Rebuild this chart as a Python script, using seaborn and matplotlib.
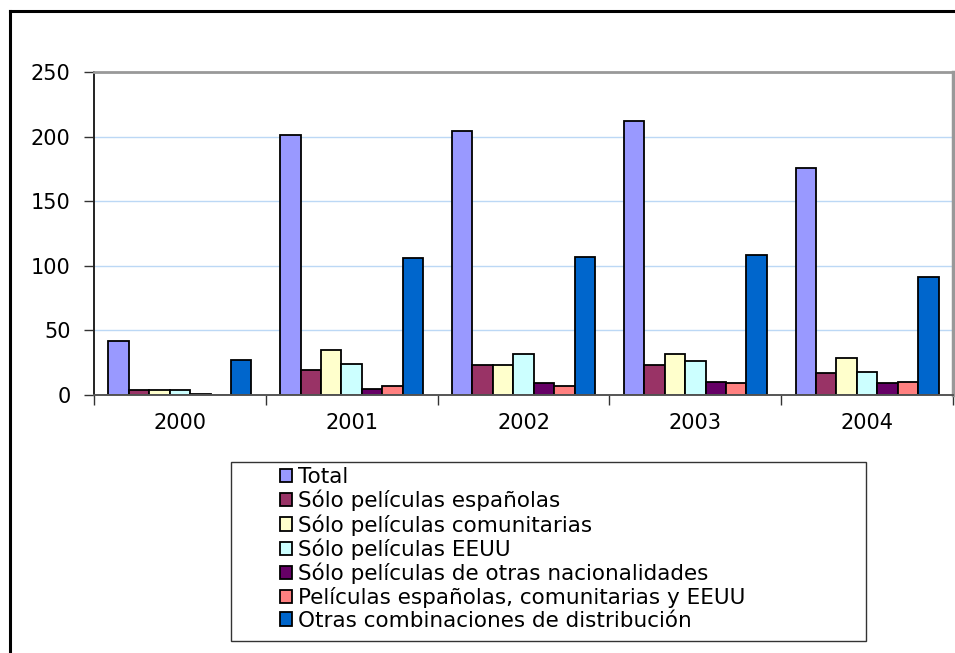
import matplotlib
matplotlib.use("Agg")
import matplotlib.pyplot as plt
from matplotlib.patches import Patch, Rectangle
from matplotlib.lines import Line2D
import seaborn as sns
import pandas as pd

# Number of films per distribution type and year
years = ["2000", "2001", "2002", "2003", "2004"]
series = [
    "Total",
    "Sólo películas españolas",
    "Sólo películas comunitarias",
    "Sólo películas EEUU",
    "Sólo películas de otras nacionalidades",
    "Películas españolas, comunitarias y EEUU",
    "Otras combinaciones de distribución",
]
total = [42, 201, 204, 212, 176]
solo_espanolas = [4, 19, 23, 23, 17]
solo_comunitarias = [4, 35, 23, 32, 29]
solo_eeuu = [4, 24, 32, 26, 18]
solo_otras = [1, 5, 9, 10, 9]
esp_com_eeuu = [0, 7, 7, 9, 10]
otras_combinaciones = [27, 106, 107, 108, 91]
values = [total, solo_espanolas, solo_comunitarias, solo_eeuu,
          solo_otras, esp_com_eeuu, otras_combinaciones]
colors = ["#9999FF", "#993366", "#FFFFCC", "#CCFFFF",
          "#660066", "#FF8080", "#0066CC"]
y_ticks = [0, 50, 100, 150, 200, 250]

df = pd.DataFrame(
    [(y, s, v) for s, vals in zip(series, values) for y, v in zip(years, vals)],
    columns=["año", "serie", "valor"],
)

sns.set_style("white")
plt.rcParams["font.family"] = ["DejaVu Sans"]
plt.rcParams["text.color"] = "black"
plt.rcParams["xtick.labelcolor"] = "black"
plt.rcParams["ytick.labelcolor"] = "black"

W, H = 955, 653
fig = plt.figure(figsize=(W / 100, H / 100), dpi=100)
ax = fig.add_axes([94 / W, 1 - 395 / H, (953 - 94) / W, (395 - 72) / H])

sns.barplot(
    data=df, x="año", y="valor", hue="serie", order=years, hue_order=series,
    palette=colors, width=0.833, edgecolor="black", linewidth=1.3,
    saturation=1, legend=False, ax=ax,
)

ax.set_xlim(-0.5, len(years) - 0.5)
ax.set_ylim(0, 250)
ax.set_yticks(y_ticks)
ax.set_yticklabels([str(t) for t in y_ticks])
ax.yaxis.grid(True, color="#BCD8F5", linewidth=1.0)
ax.set_axisbelow(True)
ax.set_xlabel("")
ax.set_ylabel("")

# category boundaries carry the x tick marks
ax.set_xticks([i - 0.5 for i in range(len(years) + 1)], minor=True)
ax.tick_params(axis="x", which="minor", length=7, width=1, color="#333333",
               direction="out", bottom=True)
ax.tick_params(axis="x", which="major", length=0, pad=13, labelsize=15,
               labelcolor="black")
ax.tick_params(axis="y", which="major", length=7, width=1, color="#333333",
               direction="out", left=True, pad=10, labelsize=15,
               labelcolor="black")

for side, col, lw in [("left", "#222222", 1.4), ("bottom", "#555555", 1.4),
                      ("top", "#999999", 2.0), ("right", "#999999", 2.5)]:
    ax.spines[side].set_visible(True)
    ax.spines[side].set_color(col)
    ax.spines[side].set_linewidth(lw)

# legend box and entries
fig.add_artist(Rectangle((231 / W, 1 - 641 / H), (866 - 231) / W, (641 - 462) / H,
                         transform=fig.transFigure, facecolor="white",
                         edgecolor="#333333", linewidth=1.0))
handles = [Patch(facecolor=c, edgecolor="black", linewidth=1.3) for c in colors]
fig.legend(
    handles, series, loc="upper left", bbox_to_anchor=(280 / W, 1 - 467 / H),
    bbox_transform=fig.transFigure, frameon=False, fontsize=15.5,
    labelcolor="black", borderpad=0, borderaxespad=0, handlelength=0.58,
    handleheight=0.58, handletextpad=0.25, labelspacing=0.13,
)

# outer chart frame (left and top edges)
fig.add_artist(Line2D([9.5 / W, 9.5 / W], [0, 1 - 11 / H], transform=fig.transFigure,
                      color="black", linewidth=2.2, solid_capstyle="projecting"))
fig.add_artist(Line2D([9.5 / W, 1], [1 - 11 / H, 1 - 11 / H], transform=fig.transFigure,
                      color="black", linewidth=2.2, solid_capstyle="projecting"))

fig.savefig("out.png", dpi=100)
